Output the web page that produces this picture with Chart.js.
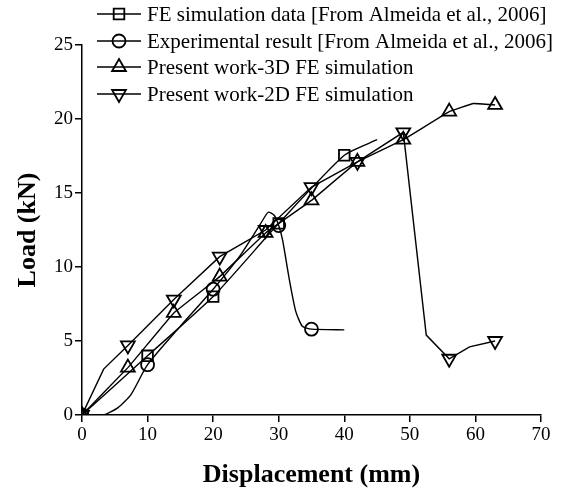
<!DOCTYPE html>
<html lang="en">
  <head>
    <meta charset="UTF-8" />
    <title>Load vs Displacement</title>
    <script src="https://cdn.jsdelivr.net/npm/chart.js"></script>
    <style>
      html, body { margin: 0; padding: 0; background: #fff; }
    </style>
  </head>
  <body>
    <canvas id="chart_load" width="571" height="493"></canvas>
    <script>
      // FE simulation data [From Almeida et al., 2006]
      const feX = [0, 10, 20, 30, 40, 45];
      const feY = [0, 4.0, 8.0, 12.95, 17.55, 18.6];
      const feMarks = [0, 1, 2, 3, 4];

      // Experimental result [From Almeida et al., 2006]
      const expX = [0, 3.2, 5.5, 7.5, 10, 15, 20, 24, 27.2, 28.4, 29.3, 30, 30.6, 31.6, 32.6, 33.6, 35, 40];
      const expY = [0, 0, 0.5, 1.4, 3.4, 6.0, 8.5, 10.7, 12.9, 13.7, 13.5, 12.8, 11.8, 9.2, 7.0, 6.0, 5.8, 5.75];
      const expMarks = [0, 4, 6, 11, 16];

      // Present work - 3D FE simulation
      const fe3dX = [0, 7, 14, 21, 28, 35, 42, 49, 56, 59.7, 63];
      const fe3dY = [0, 3.2, 6.9, 9.35, 12.3, 14.5, 17.1, 18.6, 20.5, 21.05, 20.95];
      const fe3dMarks = [0, 1, 2, 3, 4, 5, 6, 7, 8, 10];

      // Present work - 2D FE simulation
      const fe2dX = [0, 3.3, 7, 14, 21, 24.5, 28, 35, 42, 49, 52.5, 56, 59.1, 63];
      const fe2dY = [0, 3.1, 4.7, 7.8, 10.7, 11.6, 12.5, 15.4, 17.1, 19.1, 5.4, 3.8, 4.6, 5.0];
      const fe2dMarks = [0, 2, 3, 4, 6, 7, 8, 9, 11, 13];

      const xTicks = [0, 10, 20, 30, 40, 50, 60, 70];
      const yTicks = [0, 5, 10, 15, 20, 25];

      const serif = "'Liberation Serif', 'Times New Roman', serif";

      function series(label, xs, ys, marks, style, radius, rotation, tension) {
        return {
          label: label,
          data: xs.map((x, i) => ({ x: x, y: ys[i] })),
          borderColor: "#000",
          borderWidth: 1.4,
          backgroundColor: "rgba(0,0,0,0)",
          pointStyle: style,
          pointRotation: rotation,
          pointRadius: xs.map((_, i) => (marks.includes(i) ? radius : 0)),
          pointHoverRadius: 0,
          pointBorderColor: "#000",
          pointBackgroundColor: "rgba(0,0,0,0)",
          pointBorderWidth: 1.8,
          tension: tension,
          fill: false,
        };
      }

      const datasets = [
        series("FE simulation data [From Almeida et al., 2006]", feX, feY, feMarks, "rect", 7.5, 0, 0.2),
        series("Experimental result [From Almeida et al., 2006]", expX, expY, expMarks, "circle", 6.5, 0, 0.2),
        series("Present work-3D FE simulation", fe3dX, fe3dY, fe3dMarks, "triangle", 8, 0, 0.05),
        series("Present work-2D FE simulation", fe2dX, fe2dY, fe2dMarks, "triangle", 8, 180, 0),
      ];

      // legend drawn by hand so it can sit over the top of the plot
      const topLegend = {
        id: "topLegend",
        afterDraw(chart) {
          const ctx = chart.ctx;
          const rows = [14, 41, 67, 94];
          ctx.save();
          ctx.font = "21px " + serif;
          ctx.textBaseline = "middle";
          chart.data.datasets.forEach((ds, i) => {
            const y = rows[i];
            ctx.strokeStyle = "#000";
            ctx.lineWidth = 1.4;
            ctx.beginPath();
            ctx.moveTo(97, y);
            ctx.lineTo(141, y);
            ctx.stroke();
            ctx.fillStyle = "rgba(0,0,0,0)";
            ctx.lineWidth = 1.8;
            Chart.helpers.drawPoint(ctx, {
              pointStyle: ds.pointStyle,
              rotation: ds.pointRotation,
              radius: Math.max(...ds.pointRadius),
              borderWidth: 1.8,
            }, 119, y);
            ctx.fillStyle = "#000";
            ctx.fillText(ds.label, 147, y + 1);
          });
          ctx.restore();
        },
      };

      new Chart(document.getElementById("chart_load"), {
        type: "line",
        data: { datasets: datasets },
        plugins: [topLegend],
        options: {
          responsive: false,
          animation: false,
          devicePixelRatio: 1,
          layout: { padding: { top: 45, right: 30, left: 0, bottom: 0 } },
          plugins: { legend: { display: false }, tooltip: { enabled: false } },
          scales: {
            x: {
              type: "linear",
              min: xTicks[0],
              max: xTicks[xTicks.length - 1],
              afterBuildTicks: (s) => { s.ticks = xTicks.map((v) => ({ value: v })); },
              afterFit: (s) => { s.height = 78; },
              grid: { drawOnChartArea: false, tickLength: 7, color: "#000", lineWidth: 1.5 },
              border: { color: "#000", width: 1.5 },
              ticks: { color: "#000", padding: 2, font: { family: serif, size: 19 } },
              title: {
                display: true,
                text: "Displacement (mm)",
                color: "#000",
                font: { family: serif, size: 26, weight: "bold" },
                padding: { top: 0, bottom: 2 },
              },
            },
            y: {
              min: yTicks[0],
              max: yTicks[yTicks.length - 1],
              afterBuildTicks: (s) => { s.ticks = yTicks.map((v) => ({ value: v })); },
              afterFit: (s) => { s.width = 82; },
              grid: { drawOnChartArea: false, tickLength: 7, color: "#000", lineWidth: 1.5 },
              border: { color: "#000", width: 1.5 },
              ticks: { color: "#000", padding: 2, font: { family: serif, size: 19 } },
              title: {
                display: true,
                text: "Load (kN)",
                color: "#000",
                font: { family: serif, size: 26, weight: "bold" },
                padding: { top: 13, bottom: 0 },
              },
            },
          },
        },
      });
    </script>
  </body>
</html>
